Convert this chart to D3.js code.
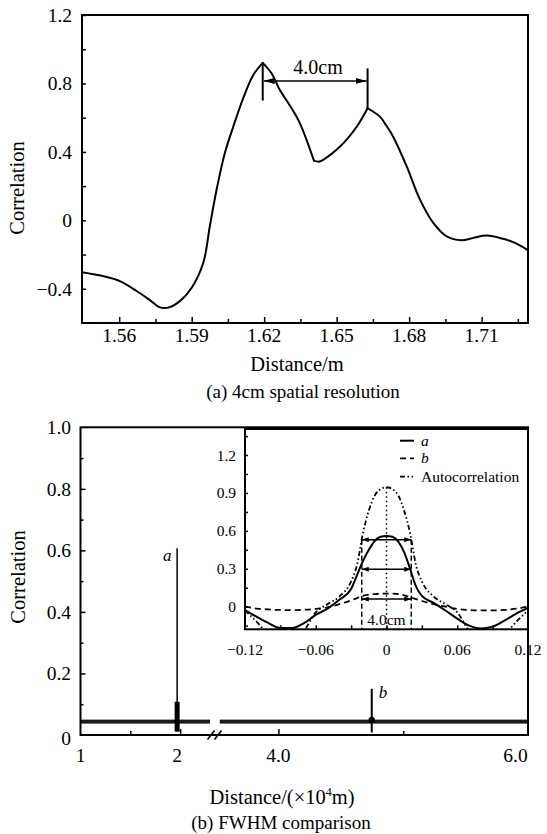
<!DOCTYPE html>
<html>
<head>
<meta charset="utf-8">
<script src="https://cdnjs.cloudflare.com/ajax/libs/d3/7.8.5/d3.min.js"></script>
<style>
html, body { margin: 0; padding: 0; background: #fff; }
svg text { font-family: "Liberation Serif", "Times New Roman", serif; fill: #000; }
</style>
</head>
<body>
<svg id="chart" width="547" height="834"></svg>
<script>
// ---- (a) 4cm spatial resolution ----
const distA = [1.5446, 1.5534, 1.5603, 1.5672, 1.5727, 1.5766, 1.5803, 1.5851, 1.5900, 1.5948,
               1.5975, 1.6003, 1.6037, 1.6072, 1.6113, 1.6155, 1.6194, 1.6231, 1.6265, 1.6307,
               1.6348, 1.6406, 1.6425, 1.6444, 1.6514, 1.6583, 1.6628, 1.6679, 1.6705, 1.6734,
               1.6790, 1.6845, 1.6900, 1.6955, 1.7017, 1.7065, 1.7121, 1.7189, 1.7238, 1.7292];
const corrA = [-0.303, -0.326, -0.355, -0.413, -0.466, -0.507, -0.510, -0.472, -0.394, -0.248,
               -0.035, 0.179, 0.392, 0.547, 0.713, 0.849, 0.920, 0.858, 0.761, 0.670,
               0.567, 0.349, 0.343, 0.354, 0.431, 0.547, 0.655, 0.606, 0.555, 0.489,
               0.315, 0.121, -0.015, -0.093, -0.116, -0.103, -0.089, -0.108, -0.132, -0.175];
const cuspsA = [1.6194, 1.6406, 1.6628];  // sharp corners of the trace
const ticksXA = [1.56, 1.59, 1.62, 1.65, 1.68, 1.71];
const minorXA = [1.575, 1.605, 1.635, 1.665, 1.695, 1.725];
const ticksYA = [-0.4, 0, 0.4, 0.8, 1.2];
const labelsYA = ["\u22120.4", "0", "0.4", "0.8", "1.2"];
const minorYA = [-0.2, 0.2, 0.6, 1.0];
const peaksA = [1.6194, 1.6628];        // the two marked peaks
const peakMarkA = [[0.70, 0.920], [0.655, 0.888]];
const arrowYA = 0.815;

// ---- (b) FWHM comparison, long range ----
const ticksXB = [2, 4];
const labelsXB = ["1", "2", "4.0", "6.0"];
const labelPosXB = [1, 1.97, 4, 5.9];
const minorXB = [1.5, 5];
const ticksYB = [0.2, 0.4, 0.6, 0.8];
const labelsYB = ["0.2", "0.4", "0.6", "0.8", "1.0"];
const minorYB = [0.1, 0.3, 0.5, 0.7, 0.9];
const noiseFrom = [1, 3.53];
const noiseTo = [2.3, 6];
const noiseLo = 0.037, noiseHi = 0.05;
const spikeNames = ["a", "b"];
const spikeX = [1.97, 4.748];
const spikeTop = [0.607, 0.15];
const spikeBottom = [0.011, 0.008];
const spikeCore = [[0.011, 0.108], [0.049, 0.049]];

// ---- inset: correlation peaks ----
const insetX = [-0.12, -0.11, -0.10, -0.09, -0.08, -0.07, -0.06, -0.05, -0.04, -0.03, -0.025,
                -0.02, -0.015, -0.01, -0.005, 0, 0.005, 0.01, 0.015, 0.02, 0.025, 0.03,
                0.04, 0.05, 0.06, 0.07, 0.08, 0.09, 0.10, 0.11, 0.12];
const insetA = [-0.026, -0.08, -0.13, -0.168, -0.168, -0.13, -0.065, -0.015, 0.055, 0.14, 0.25,
                0.36, 0.45, 0.52, 0.553, 0.56, 0.553, 0.515, 0.43, 0.30, 0.16, 0.085,
                0.03, -0.03, -0.095, -0.15, -0.172, -0.158, -0.11, -0.055, -0.01];
const insetB = [0.0, -0.015, -0.022, -0.026, -0.027, -0.024, -0.018, -0.005, 0.02, 0.05, 0.068,
                0.085, 0.095, 0.10, 0.103, 0.104, 0.103, 0.10, 0.09, 0.075, 0.06, 0.045,
                0.02, 0.0, -0.018, -0.026, -0.03, -0.03, -0.026, -0.016, 0.0];
const insetAuto = [-0.03, -0.12, -0.22, -0.27, -0.26, -0.19, -0.045, 0.02, 0.08, 0.2, 0.33,
                   0.58, 0.76, 0.88, 0.93, 0.945, 0.93, 0.88, 0.76, 0.58, 0.33, 0.2,
                   0.08, 0.02, -0.045, -0.19, -0.26, -0.27, -0.22, -0.12, -0.03];
const insetTicksX = [-0.12, -0.06, 0, 0.06, 0.12];
const insetLabelsX = ["\u22120.12", "\u22120.06", "0", "0.06", "0.12"];
const insetMinorX = [-0.09, -0.06, -0.03, 0, 0.03, 0.06, 0.09];
const insetTicksY = [0, 0.3, 0.6, 0.9, 1.2];
const insetMinorY = [-0.15, 0, 0.15, 0.3, 0.45, 0.6, 0.75, 0.9, 1.05, 1.2, 1.35];
const fwhmLevels = [0.53, 0.296, 0.06];
const fwhmEdges = [-0.021, 0.021];
const legendNames = ["a", "b", "Autocorrelation"];

const svg = d3.select('#chart');
svg.append('rect').attr('width', 547).attr('height', 834).attr('fill', '#fff');

const defs = svg.append('defs');
function addArrow(id, w, h) {
    defs.append('marker').attr('id', id)
        .attr('viewBox', '0 0 10 10').attr('refX', 10).attr('refY', 5)
        .attr('markerWidth', w).attr('markerHeight', h)
        .attr('markerUnits', 'userSpaceOnUse')
        .attr('preserveAspectRatio', 'none')
        .attr('orient', 'auto-start-reverse')
        .append('path').attr('d', 'M0,0L10,5L0,10z').attr('fill', '#000');
}
addArrow('arrowBig', 11, 6);
addArrow('arrowSmall', 7, 5);

function text(g, x, y, s, size, anchor) {
    return g.append('text').attr('x', x).attr('y', y)
        .attr('font-size', size).attr('text-anchor', anchor || 'middle').text(s);
}

function ticks(g, axis, tx, ty) {
    g.append('g').attr('transform', `translate(${tx},${ty})`)
        .call(axis.tickFormat(''))
        .call(s => s.select('.domain').remove())
        .call(s => s.selectAll('line').attr('stroke', '#000').attr('stroke-width', 1.5));
}

// ================= chart (a) =================
const xA = d3.scaleLinear().domain([1.5446, 1.7292]).range([82, 528]);
const yA = d3.scaleLinear().domain([-0.6, 1.2]).range([323, 15]);
const gA = svg.append('g');

ticks(gA, d3.axisBottom(xA).tickValues(ticksXA).tickSize(-6), 0, yA.range()[0]);
ticks(gA, d3.axisBottom(xA).tickValues(minorXA).tickSize(-4), 0, yA.range()[0]);
ticks(gA, d3.axisLeft(yA).tickValues(ticksYA.concat(minorYA)).tickSize(-4), xA.range()[0], 0);

// smooth pieces joined at the sharp corners
const ptsA = distA.map((d, i) => [d, corrA[i]]);
const bounds = [distA[0]].concat(cuspsA, [distA[distA.length - 1]]);
const lineA = d3.line().x(d => xA(d[0])).y(d => yA(d[1])).curve(d3.curveCatmullRom.alpha(0.5));
for (let k = 0; k < bounds.length - 1; k++) {
    gA.append('path')
        .datum(ptsA.filter(p => p[0] >= bounds[k] && p[0] <= bounds[k + 1]))
        .attr('fill', 'none').attr('stroke', '#000').attr('stroke-width', 2)
        .attr('stroke-linecap', 'round')
        .attr('d', lineA);
}

gA.append('rect')
    .attr('x', xA.range()[0]).attr('y', yA.range()[1])
    .attr('width', xA.range()[1] - xA.range()[0]).attr('height', yA.range()[0] - yA.range()[1])
    .attr('fill', 'none').attr('stroke', '#000').attr('stroke-width', 2);

// peak markers and 4.0cm arrow
peaksA.forEach((p, i) => {
    gA.append('line')
        .attr('x1', xA(p)).attr('x2', xA(p))
        .attr('y1', yA(peakMarkA[i][0])).attr('y2', yA(peakMarkA[i][1]))
        .attr('stroke', '#000').attr('stroke-width', 2);
});
gA.append('line')
    .attr('x1', xA(peaksA[0]) + 1).attr('x2', xA(peaksA[1]) - 1)
    .attr('y1', yA(arrowYA)).attr('y2', yA(arrowYA))
    .attr('stroke', '#000').attr('stroke-width', 1.5)
    .attr('marker-start', 'url(#arrowBig)').attr('marker-end', 'url(#arrowBig)');
text(gA, xA(1.6423), yA(0.858), '4.0cm', 20);

ticksXA.forEach(v => text(gA, xA(v), 342, String(v), 19.5));
ticksYA.forEach((v, i) => text(gA, 72, yA(v) + 7, labelsYA[i], 19.5, 'end'));
text(gA, 297, 371, 'Distance/m', 20.5);
text(gA, 0, 0, 'Correlation', 20.5)
    .attr('transform', 'translate(24,188) rotate(-90)');
text(gA, 303, 398, '(a) 4cm spatial resolution', 19);

// ================= chart (b) =================
const xB = d3.scaleLinear().domain([1, 2.34, 3.5, 6]).range([80.5, 214, 216, 528]);
const yB = d3.scaleLinear().domain([0, 1]).range([735, 427.3]);
const gB = svg.append('g');

ticks(gB, d3.axisBottom(xB).tickValues(ticksXB).tickSize(-6), 0, yB.range()[0]);
ticks(gB, d3.axisBottom(xB).tickValues(minorXB).tickSize(-4), 0, yB.range()[0]);
ticks(gB, d3.axisLeft(yB).tickValues(ticksYB).tickSize(-5), xB.range()[0], 0);
ticks(gB, d3.axisLeft(yB).tickValues(minorYB).tickSize(-3), xB.range()[0], 0);

// noise floor
noiseFrom.forEach((f, i) => {
    gB.append('rect')
        .attr('x', xB(f)).attr('width', xB(noiseTo[i]) - xB(f))
        .attr('y', yB(noiseHi)).attr('height', yB(noiseLo) - yB(noiseHi))
        .attr('fill', '#1a1a1a');
});

// spikes
spikeX.forEach((x, i) => {
    gB.append('line')
        .attr('x1', xB(x)).attr('x2', xB(x))
        .attr('y1', yB(spikeTop[i])).attr('y2', yB(spikeBottom[i]))
        .attr('stroke', '#000').attr('stroke-width', i === 0 ? 1.5 : 2);
});
gB.append('line')
    .attr('x1', xB(spikeX[0])).attr('x2', xB(spikeX[0]))
    .attr('y1', yB(spikeCore[0][1])).attr('y2', yB(spikeCore[0][0]))
    .attr('stroke', '#000').attr('stroke-width', 5);
gB.append('circle')
    .attr('cx', xB(spikeX[1])).attr('cy', yB(spikeCore[1][0])).attr('r', 3.2)
    .attr('fill', '#000');
text(gB, xB(spikeX[0]) - 10, yB(spikeTop[0]) + 13, spikeNames[0], 17).attr('font-style', 'italic');
text(gB, xB(spikeX[1]) + 7, yB(spikeTop[1]) + 9, spikeNames[1], 17, 'start').attr('font-style', 'italic');

// frame and axis break
gB.append('rect')
    .attr('x', xB.range()[0]).attr('y', yB.range()[1])
    .attr('width', xB.range()[3] - xB.range()[0]).attr('height', yB.range()[0] - yB.range()[1])
    .attr('fill', 'none').attr('stroke', '#000').attr('stroke-width', 2);
[-4, 3].forEach(dx => {
    const cx = (xB.range()[1] + xB.range()[2]) / 2 + dx;
    gB.append('line')
        .attr('x1', cx - 3.5).attr('y1', yB.range()[0] + 4.5)
        .attr('x2', cx + 3.5).attr('y2', yB.range()[0] - 4.5)
        .attr('stroke', '#000').attr('stroke-width', 1.6);
});

labelsXB.forEach((s, i) => text(gB, xB(labelPosXB[i]), 762, s, 19.5));
ticksYB.concat([1.0]).forEach((v, i) => text(gB, 71, yB(v) + 7, labelsYB[i], 19.5, 'end'));
text(gB, 71, 745, '0', 19.5, 'end');
const xt = text(gB, 282, 804, 'Distance/(\u00d710', 20.5);
xt.append('tspan').attr('font-size', 12).attr('dy', -8).text('4');
xt.append('tspan').attr('dy', 8).text('m)');
text(gB, 0, 0, 'Correlation', 20.5)
    .attr('transform', 'translate(25,577) rotate(-90)');
text(gB, 281, 829, '(b) FWHM comparison', 19);

// ================= inset =================
const xI = d3.scaleLinear().domain([-0.12, 0.12]).range([245, 528]);
const yI = d3.scaleLinear().domain([-0.179, 1.406]).range([629.3, 429]);
const gI = svg.append('g');

gI.append('rect')
    .attr('x', xI.range()[0]).attr('y', yI.range()[1])
    .attr('width', xI.range()[1] - xI.range()[0]).attr('height', yI.range()[0] - yI.range()[1])
    .attr('fill', '#fff');

defs.append('clipPath').attr('id', 'insetClip').append('rect')
    .attr('x', xI.range()[0]).attr('y', yI.range()[1])
    .attr('width', xI.range()[1] - xI.range()[0]).attr('height', yI.range()[0] - yI.range()[1]);

ticks(gI, d3.axisBottom(xI).tickValues(insetMinorX).tickSize(-4), 0, yI.range()[0]);
ticks(gI, d3.axisLeft(yI).tickValues(insetMinorY).tickSize(-3), xI.range()[0], 0);

const curves = gI.append('g').attr('clip-path', 'url(#insetClip)');
const lineI = d3.line().x(d => xI(d[0])).y(d => yI(d[1])).curve(d3.curveMonotoneX);
const dashes = [null, '6,4', '5,2.5,1.5,2.5,1.5,2.5'];
[insetA, insetB, insetAuto].forEach((ys, k) => {
    curves.append('path')
        .datum(insetX.map((x, i) => [x, ys[i]]))
        .attr('fill', 'none').attr('stroke', '#000')
        .attr('stroke-width', k === 0 ? 2 : 1.8)
        .attr('stroke-dasharray', dashes[k])
        .attr('d', lineI);
});

// centre line and FWHM markers
curves.append('line')
    .attr('x1', xI(0)).attr('x2', xI(0))
    .attr('y1', yI(d3.max(insetAuto))).attr('y2', yI.range()[0])
    .attr('stroke', '#000').attr('stroke-width', 1.5).attr('stroke-dasharray', '1.5,3');
fwhmEdges.forEach(x => {
    curves.append('line')
        .attr('x1', xI(x)).attr('x2', xI(x))
        .attr('y1', yI(fwhmLevels[0])).attr('y2', yI.range()[0])
        .attr('stroke', '#000').attr('stroke-width', 1.5).attr('stroke-dasharray', '5,3');
});
fwhmLevels.forEach(v => {
    curves.append('line')
        .attr('x1', xI(fwhmEdges[0])).attr('x2', xI(fwhmEdges[1]))
        .attr('y1', yI(v)).attr('y2', yI(v))
        .attr('stroke', '#000').attr('stroke-width', 1.5)
        .attr('marker-start', 'url(#arrowSmall)').attr('marker-end', 'url(#arrowSmall)');
});
text(gI, xI(0), yI(-0.105) + 5, '4.0cm', 15.5);

gI.append('rect')
    .attr('x', xI.range()[0]).attr('y', yI.range()[1])
    .attr('width', xI.range()[1] - xI.range()[0]).attr('height', yI.range()[0] - yI.range()[1])
    .attr('fill', 'none').attr('stroke', '#000').attr('stroke-width', 2);

insetTicksX.forEach((v, i) => text(gI, xI(v), 655, insetLabelsX[i], 15.5));
insetTicksY.forEach(v => text(gI, 236, yI(v) + 5.5, String(v), 15.5, 'end'));

// legend
const legY = [440.7, 458.3, 476.7];
legendNames.forEach((n, k) => {
    gI.append('line')
        .attr('x1', 400).attr('x2', 414).attr('y1', legY[k]).attr('y2', legY[k])
        .attr('stroke', '#000').attr('stroke-width', k === 0 ? 2 : 1.8)
        .attr('stroke-dasharray', dashes[k]);
    const t = text(gI, 421, legY[k] + 5, n, 15.5, 'start');
    if (k < 2) t.attr('font-style', 'italic');
});
</script>
</body>
</html>
